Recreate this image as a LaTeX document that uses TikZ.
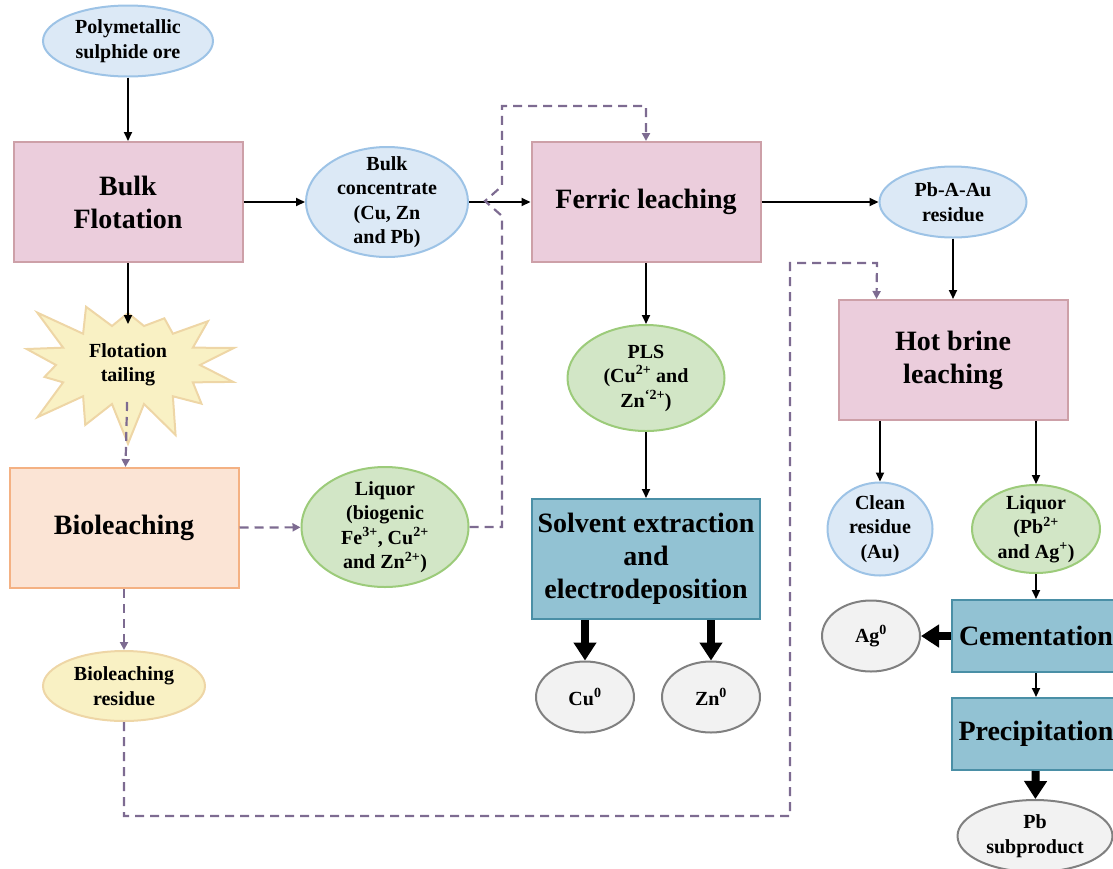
\documentclass[tikz,border=0pt]{standalone}
\usepackage{fontspec}
\setmainfont{Liberation Serif}
\usetikzlibrary{shapes.geometric,shapes.symbols,arrows.meta}
\definecolor{blobblue}{HTML}{DCE9F6}
\definecolor{lineblue}{HTML}{9DC3E6}
\definecolor{stagepink}{HTML}{EBCDDC}
\definecolor{linepink}{HTML}{CDA0A8}
\definecolor{stagepeach}{HTML}{FBE4D5}
\definecolor{linepeach}{HTML}{F4B183}
\definecolor{blobgreen}{HTML}{D2E6C6}
\definecolor{linegreen}{HTML}{9CCB7A}
\definecolor{stageteal}{HTML}{92C2D3}
\definecolor{lineteal}{HTML}{4A8FA6}
\definecolor{blobgrey}{HTML}{F2F2F2}
\definecolor{linegrey}{HTML}{808080}
\definecolor{blobyellow}{HTML}{F9F1C4}
\definecolor{lineyellow}{HTML}{EED6A6}
\definecolor{recyclecol}{HTML}{7D6B91}
\begin{document}
\begin{tikzpicture}[x=1pt,y=-1pt,
        blob/.style={ellipse,draw,line width=2pt,inner sep=-12pt,align=center,
            font=\bfseries\fontsize{20}{24.5}\selectfont},
        blueblob/.style={blob,fill=blobblue,draw=lineblue},
        greenblob/.style={blob,fill=blobgreen,draw=linegreen},
        greyblob/.style={blob,fill=blobgrey,draw=linegrey},
        yellowblob/.style={blob,fill=blobyellow,draw=lineyellow},
        stage/.style={rectangle,draw,line width=2pt,inner sep=0pt,align=center,
            font=\bfseries\fontsize{28}{33}\selectfont},
        pinkstage/.style={stage,fill=stagepink,draw=linepink,minimum width=229pt,minimum height=120pt},
        peachstage/.style={stage,fill=stagepeach,draw=linepeach,minimum width=229pt,minimum height=120pt},
        tealstage/.style={stage,fill=stageteal,draw=lineteal},
        flow/.style={-{Triangle[length=9pt,width=8pt]},line width=2pt},
        product/.style={-{Triangle[length=18pt,width=22pt]},line width=8pt},
        recycle/.style={-{Triangle[length=8pt,width=8pt]},line width=2.2pt,draw=recyclecol,
            dash pattern=on 9pt off 6pt}
        ]
    \useasboundingbox (0,0) rectangle (1113,868);

    \node (ore) at (128,41) [blueblob,minimum width=170pt,minimum height=71pt] {Polymetallic\\sulphide ore};
    \node (bulk) at (128,202) [pinkstage] {Bulk\\Flotation};
    \node (conc) at (387,202) [blueblob,minimum width=162pt,minimum height=110pt] {Bulk\\concentrate\\(Cu, Zn\\and Pb)};
    \node (ferric) at (646,202) [pinkstage] {Ferric leaching};
    \node (pbres) at (953,202) [blueblob,minimum width=147pt,minimum height=71pt] {Pb-A-Au\\residue};
    \node (tail) at (128,365) [starburst,starburst points=14,starburst point height=46pt,random starburst=23,
        fill=blobyellow,draw=lineyellow,line width=2pt,inner sep=0pt,align=center,
        minimum width=236pt,minimum height=172pt,font=\bfseries\fontsize{20}{24.5}\selectfont] {Flotation\\tailing};
    \node (bio) at (124,528) [peachstage] {Bioleaching};
    \node (liq) at (385,527) [greenblob,minimum width=167pt,minimum height=120pt] {Liquor\\(biogenic\\Fe\textsuperscript{3+}, Cu\textsuperscript{2+}\\and Zn\textsuperscript{2+})};
    \node (pls) at (646,378) [greenblob,minimum width=157pt,minimum height=106pt] {PLS\\(Cu\textsuperscript{2+} and\\Zn\textsuperscript{`2+})};
    \node (solv) at (646,559) [tealstage,minimum width=228pt,minimum height=120pt] {Solvent extraction\\and\\electrodeposition};
    \node (cu) at (585,697) [greyblob,minimum width=98pt,minimum height=71pt] {Cu\textsuperscript{0}};
    \node (zn) at (711,697) [greyblob,minimum width=98pt,minimum height=71pt] {Zn\textsuperscript{0}};
    \node (bres) at (124,686) [yellowblob,minimum width=162pt,minimum height=70pt] {Bioleaching\\residue};
    \node (brine) at (953,360) [pinkstage] {Hot brine\\leaching};
    \node (clean) at (880,529) [blueblob,minimum width=105pt,minimum height=93pt] {Clean\\residue\\(Au)};
    \node (liqpb) at (1036,529) [greenblob,minimum width=128pt,minimum height=88pt] {Liquor\\(Pb\textsuperscript{2+}\\and Ag\textsuperscript{+})};
    \node (cem) at (1036,636) [tealstage,minimum width=168pt,minimum height=72pt] {Cementation};
    \node (ag) at (871,636) [greyblob,minimum width=98pt,minimum height=71pt] {Ag\textsuperscript{0}};
    \node (prec) at (1036,734) [tealstage,minimum width=168pt,minimum height=72pt] {Precipitation};
    \node (pbsub) at (1035,836) [greyblob,minimum width=155pt,minimum height=72pt] {Pb\\subproduct};

    \draw[flow] (ore) to (bulk);
    \draw[flow] (bulk) to (conc);
    \draw[flow] (conc) to (ferric);
    \draw[flow] (ferric) to (pbres);
    \draw[flow,shorten >=41pt] (bulk) to (tail.center);
    \draw[flow] (ferric) to (pls);
    \draw[flow] (pls) to (solv);
    \draw[flow] (pbres) to (brine);
    \draw[flow] (clean |- brine.south) to (clean);
    \draw[flow] (liqpb |- brine.south) to (liqpb);
    \draw[flow] (liqpb) to (cem);
    \draw[flow] (cem) to (prec);
    \draw[product] (cu |- solv.south) to (cu);
    \draw[product] (zn |- solv.south) to (zn);
    \draw[product] (cem) to (ag);
    \draw[product] (prec) to (pbsub);
    \draw[recycle,shorten <=37pt] (tail.center) to (bio);
    \draw[recycle] (bio) to (liq);
    \draw[recycle] (bio) to (bres);
    \draw[recycle] (liq.east) -| (502,216) -- (485,201) -- (502,186) |- (646,106) -- (ferric.north);
    \draw[recycle] (bres.south) |- (790,816) |- (877,263) -- ([xshift=39pt]brine.north west);
\end{tikzpicture}
\end{document}
